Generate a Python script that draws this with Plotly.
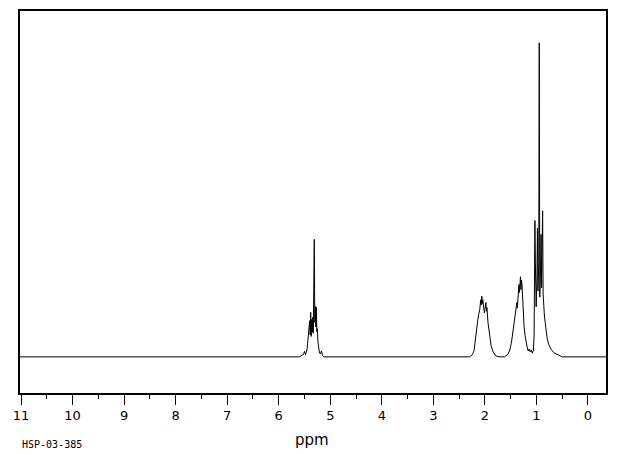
import plotly.graph_objects as go

# Spectrum trace: chemical shift (ppm) and relative intensity
ppm = [
    11.02, 5.60, 5.52, 5.50, 5.48, 5.45, 5.43, 5.41, 5.40, 5.39, 5.38, 5.37, 5.36,
    5.35, 5.34, 5.33, 5.32, 5.31, 5.30, 5.29, 5.28, 5.27, 5.26, 5.25, 5.24, 5.23,
    5.21, 5.19, 5.17, 5.15, 5.12,
    2.30, 2.26, 2.23, 2.21, 2.19, 2.17, 2.14, 2.12, 2.10, 2.08, 2.07, 2.06, 2.05,
    2.04, 2.03, 2.02, 2.01, 2.00, 1.99, 1.98, 1.97, 1.96, 1.94, 1.91, 1.88, 1.84,
    1.79, 1.71,
    1.62, 1.55, 1.51, 1.48, 1.45, 1.42, 1.40, 1.38, 1.37, 1.36, 1.35, 1.34, 1.33,
    1.32, 1.31, 1.30, 1.29, 1.28, 1.27, 1.26, 1.24, 1.22, 1.20, 1.18, 1.16, 1.14,
    1.12, 1.10, 1.08,
    1.06, 1.045, 1.03, 1.02, 1.005, 0.99, 0.98, 0.97, 0.955, 0.945, 0.935, 0.92,
    0.91, 0.90, 0.89, 0.88, 0.87, 0.86, 0.845, 0.83, 0.815, 0.79, 0.76, 0.72,
    0.66, 0.58, 0.50, -0.35,
]
intensity = [
    0.0, 0.0, 0.8, 1.8, 0.7, 2.5, 6.0, 9.0, 11.5, 7.0, 14.2, 6.5, 12.0,
    8.0, 12.6, 7.5, 20.0, 37.4, 11.0, 16.0, 9.5, 15.8, 8.0, 9.0, 5.0, 3.5,
    1.2, 1.0, 1.9, 0.4, 0.0,
    0.0, 0.4, 1.2, 2.0, 4.7, 7.9, 11.4, 13.5, 15.0, 18.2, 16.5, 19.3, 17.0,
    18.2, 15.5, 16.7, 14.0, 15.1, 16.0, 17.3, 14.5, 15.7, 11.0, 6.7, 3.6, 1.6,
    0.3, 0.0,
    0.0, 0.9, 2.5, 5.1, 8.8, 11.9, 14.6, 17.3, 15.5, 19.3, 18.0, 23.0, 20.5,
    24.0, 25.5, 21.4, 24.5, 23.0, 18.0, 14.0, 9.8, 6.7, 4.0, 3.1, 1.9, 2.5,
    1.6, 2.2, 1.2,
    2.0, 6.7, 43.4, 30.0, 16.0, 25.0, 41.0, 21.0, 30.0, 100.0, 19.0, 28.0,
    39.0, 22.0, 30.0, 46.5, 20.0, 16.0, 13.0, 11.0, 8.8, 5.7, 4.0, 2.5,
    1.3, 0.6, 0.0, 0.0,
]

x_ticks = [11, 10, 9, 8, 7, 6, 5, 4, 3, 2, 1, 0]
x_range = [11.02, -0.35]
y_range = [-11.5, 110.1]

fig = go.Figure()
fig.add_trace(go.Scatter(x=ppm, y=intensity, mode="lines",
                         line=dict(color="black", width=1), hoverinfo="skip"))

fig.update_layout(
    width=620, height=455,
    margin=dict(l=20, r=14, t=9, b=62),
    paper_bgcolor="white", plot_bgcolor="white",
    showlegend=False,
    font=dict(family="DejaVu Sans", color="black"),
    xaxis=dict(range=x_range, showgrid=False, zeroline=False,
               showline=True, linecolor="black", linewidth=1.5, mirror=True,
               ticks="outside", ticklen=10, tickwidth=1, tickcolor="black",
               tickvals=x_ticks, ticktext=[str(t) for t in x_ticks],
               tickfont=dict(family="DejaVu Sans", size=13, color="black"),
               minor=dict(ticks="outside", ticklen=4, tickwidth=1, tickcolor="black",
                          dtick=0.5, tick0=0, showgrid=False)),
    yaxis=dict(range=y_range, showgrid=False, zeroline=False,
               showline=True, linecolor="black", linewidth=1.5, mirror=True,
               ticks="", showticklabels=False),
    annotations=[
        dict(text="ppm", xref="paper", yref="paper", x=0.498, y=0,
             xanchor="center", yanchor="middle", yshift=-47, showarrow=False,
             font=dict(family="DejaVu Sans", size=15, color="black")),
        dict(text="HSP-03-385", xref="paper", yref="paper", x=0, y=0,
             xanchor="left", yanchor="middle", yshift=-51, showarrow=False,
             font=dict(family="DejaVu Sans Mono", size=10, color="black")),
    ],
)

fig.write_html("out.html", config={"displayModeBar": False},
               post_script="document.body.style.margin='0px';document.body.style.overflow='hidden';")
